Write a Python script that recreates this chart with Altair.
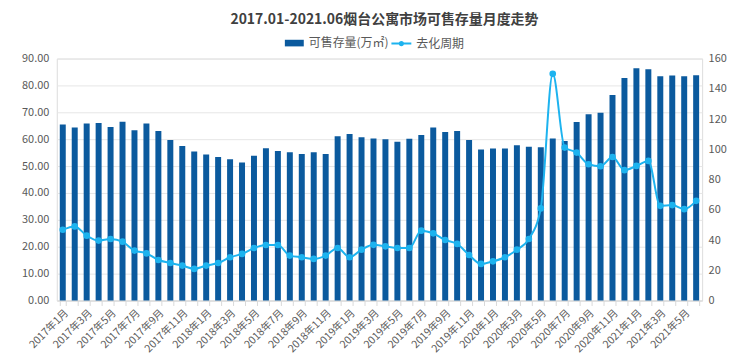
import altair as alt
import pandas as pd

months = [f"{y}年{m}月" for y in range(2017, 2022) for m in range(1, 13)][:54]

stock = [65.5, 64.3, 65.8, 66.0, 64.5, 66.5, 63.3, 65.8, 63.0, 59.7,
         57.5, 55.4, 54.3, 53.4, 52.5, 51.3, 53.8, 56.6, 55.6, 55.1,
         54.5, 55.1, 54.5, 61.1, 61.9, 60.7, 60.3, 60.0, 59.0, 60.2,
         61.6, 64.3, 62.7, 63.0, 59.7, 56.2, 56.5, 56.5, 57.7, 57.2,
         57.0, 60.3, 59.3, 66.4, 69.3, 69.8, 76.4, 82.8, 86.4, 86.0,
         83.4, 83.7, 83.4, 83.8]

cycle = [46.8, 49.0, 42.9, 39.6, 40.7, 38.9, 33.0, 31.2, 26.8, 24.8,
         23.1, 20.9, 23.1, 24.8, 28.6, 30.8, 34.7, 36.7, 36.7, 29.7,
         28.6, 27.5, 29.7, 34.7, 28.6, 33.6, 36.8, 35.8, 34.7, 34.7,
         46.2, 44.4, 40.0, 37.4, 30.1, 24.2, 25.9, 28.6, 33.6, 40.7,
         60.9, 149.9, 101.1, 97.8, 90.1, 88.8, 94.9, 86.2, 89.0, 92.3,
         62.6, 63.1, 60.4, 65.9]

s1 = "可售存量(万㎡)"
s2 = "去化周期"

df = pd.DataFrame({"month": months, "stock": stock, "cycle": cycle,
                   "s1": s1, "s2": s2})

font = "Noto Sans CJK SC"
gray = "#595959"
dark = "#0B5A9E"
light = "#1DB3EF"

x = alt.X("month:N", sort=months, title=None,
          scale=alt.Scale(paddingInner=0.5, paddingOuter=0.25),
          axis=alt.Axis(labelAngle=-45, labelColor=gray, labelFontSize=10.5,
                        labelFont=font, tickBand="extent", tickColor="#d9d9d9",
                        tickSize=5, domainColor="#d9d9d9", labelPadding=2,
                        labelExpr="(substring(datum.label, 5, length(datum.label) - 1) % 2 == 1) ? datum.label : ''"))

bars = alt.Chart(df).mark_bar(color=dark).encode(
    x=x,
    y=alt.Y("stock:Q", title=None,
            scale=alt.Scale(domain=[0, 90]),
            axis=alt.Axis(values=list(range(0, 91, 10)), format=".2f",
                          labelColor=gray, labelFontSize=11, labelFont=font,
                          domain=False, ticks=False, gridColor="#e6e6e6",
                          labelPadding=8)),
    color=alt.Color("s1:N", title=None,
                    scale=alt.Scale(domain=[s1], range=[dark]),
                    legend=alt.Legend(orient="none", legendX=228, legendY=-26,
                                      symbolType="M-1,-0.35H1V0.35H-1Z",
                                      symbolSize=361, labelFontSize=12,
                                      labelFont=font, labelColor=gray)),
)

line = alt.Chart(df).mark_line(
    interpolate="monotone", strokeWidth=2,
    point=alt.OverlayMarkDef(filled=True, size=22, color=light),
).encode(
    x=x,
    y=alt.Y("cycle:Q", title=None,
            scale=alt.Scale(domain=[0, 160]),
            axis=alt.Axis(orient="right", values=list(range(0, 161, 20)),
                          format="d", labelColor=gray, labelFontSize=11,
                          labelFont=font, domain=False, ticks=False,
                          grid=False, labelPadding=6)),
    stroke=alt.Stroke("s2:N", title=None,
                      scale=alt.Scale(domain=[s2], range=[light]),
                      legend=alt.Legend(orient="none", legendX=335, legendY=-26,
                                        symbolType="M-1,0H1M0.17,0A0.17,0.17 0 1,1 -0.17,0A0.17,0.17 0 1,1 0.17,0",
                                        symbolSize=400, symbolStrokeWidth=2,
                                        labelFontSize=12, labelFont=font,
                                        labelColor=gray)),
)

chart = alt.layer(bars, line).resolve_scale(
    y="independent", color="independent", stroke="independent"
).properties(
    width=648, height=243,
    padding={"left": 13, "top": 4, "right": 5, "bottom": 5},
    title=alt.TitleParams("2017.01-2021.06烟台公寓市场可售存量月度走势",
                          font=font, fontSize=14, fontWeight="bold",
                          color="#404040", anchor="middle", offset=6, dx=5),
).configure_view(stroke=None).configure(background="white")

chart.save("out.html", embed_options={"renderer": "svg", "actions": False})
